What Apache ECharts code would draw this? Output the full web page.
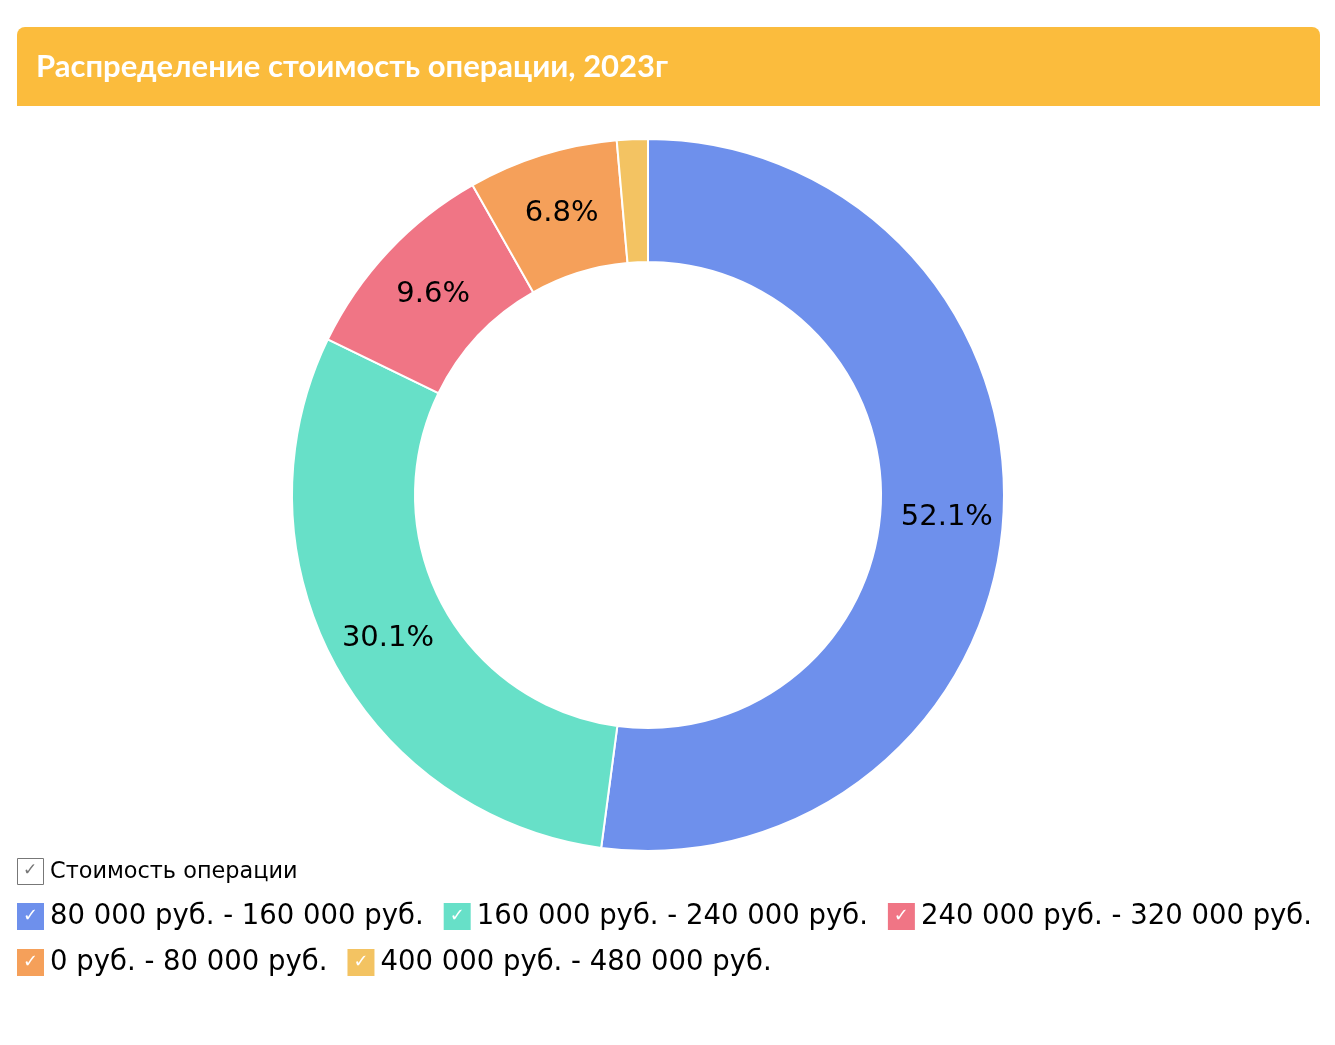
<!DOCTYPE html>
<html><head><meta charset="utf-8">
<script src="https://cdn.jsdelivr.net/npm/echarts@6/dist/echarts.min.js"></script>
<style>html,body{margin:0;padding:0;background:#fff}#c{width:1335px;height:1045px}</style>
</head><body><div id="c"></div>
<script>
const titleText = 'Распределение стоимость операции, 2023г';
const seriesName = 'Стоимость операции';
const categories = ['80 000 руб. - 160 000 руб.', '160 000 руб. - 240 000 руб.', '240 000 руб. - 320 000 руб.', '0 руб. - 80 000 руб.', '400 000 руб. - 480 000 руб.'];
const values = [52.1, 30.1, 9.6, 6.8, 1.4];
const colors = ['#6E90EC', '#67E0C8', '#F07585', '#F5A05A', '#F3C362'];

const chart = echarts.init(document.getElementById('c'));
const rich = {};
colors.forEach((c, i) => {
  rich['b' + i] = {backgroundColor: c, color: '#fff', width: 27, height: 27, lineHeight: 27, align: 'center', fontSize: 18, fontFamily: 'DejaVu Sans'};
});
rich.t = {fontSize: 27.5, lineHeight: 31, height: 31, color: '#000', fontFamily: 'DejaVu Sans', padding: [0, 0, 0, 6]};
chart.setOption({
  animation: false,
  graphic: [
    {type: 'rect', left: 17, top: 27, shape: {width: 1303, height: 79, r: [8, 8, 0, 0]}, style: {fill: '#FBBC3D'}},
    {type: 'text', left: 36, top: 51, style: {text: titleText, fill: '#fff', font: 'bold 31px Lato, "Noto Sans", sans-serif'}},
    {type: 'rect', left: 17, top: 858, shape: {width: 26, height: 26}, style: {fill: '#fff', stroke: '#777', lineWidth: 1}},
    {type: 'text', left: 23, top: 862, style: {text: '✓', fill: '#777', font: '17px "DejaVu Sans"'}},
    {type: 'text', left: 50, top: 861, style: {text: seriesName, fill: '#000', font: '22.4px "DejaVu Sans"'}}
  ],
  legend: {
    left: 12, top: 901, width: 1323, padding: 0, icon: 'none', itemWidth: 0, itemHeight: 0, itemGap: 15,
    orient: 'horizontal',
    data: categories,
    formatter: function (name) { return '{b' + categories.indexOf(name) + '|✓}{t|' + name + '}'; },
    textStyle: {rich: rich, padding: 0, lineHeight: 31},
    selectedMode: true
  },
  series: [{
    name: seriesName,
    type: 'pie',
    center: [648, 495],
    radius: [233, 356],
    startAngle: 90,
    clockwise: true,
    minShowLabelAngle: 6,
    itemStyle: {borderColor: '#fff', borderWidth: 2},
    label: {show: true, position: 'inside', formatter: '{c}%', color: '#000', fontSize: 29, fontFamily: 'DejaVu Sans', offset: [2, 3]},
    labelLine: {show: false},
    emphasis: {disabled: true},
    data: categories.map((n, i) => ({name: n, value: values[i], itemStyle: {color: colors[i]}}))
  }]
});
</script></body></html>
